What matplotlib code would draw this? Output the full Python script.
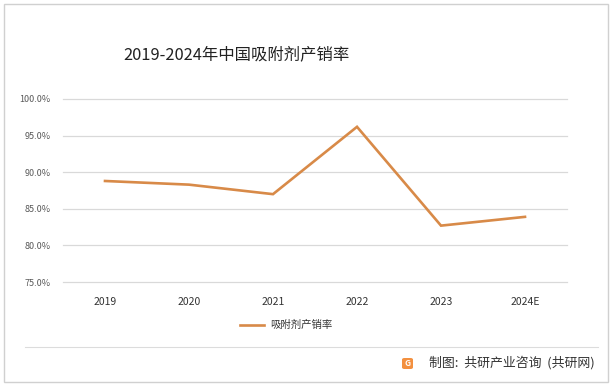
import matplotlib
matplotlib.use('Agg')
import matplotlib.pyplot as plt
from matplotlib.patches import Rectangle, FancyBboxPatch
from matplotlib.lines import Line2D

plt.rcParams['font.family'] = ['Noto Sans CJK SC', 'DejaVu Sans']

# 数据
years = ['2019', '2020', '2021', '2022', '2023', '2024E']
rate = [88.8, 88.3, 87.0, 96.2, 82.7, 83.9]
yticks = [75, 80, 85, 90, 95, 100]

W, H = 614, 386
fig = plt.figure(figsize=(W / 100, H / 100), dpi=100)
fig.patch.set_facecolor('white')

ax = fig.add_axes([63 / W, 1 - 282 / H, (567 - 63) / W, (282 - 99) / H])
ax.set_facecolor('none')
x = range(len(years))
ax.plot(x, rate, color='#D88A48', linewidth=1.9, solid_joinstyle='miter', zorder=3)
ax.set_xlim(-0.5, len(years) - 0.5)
ax.set_ylim(75, 100)
ax.set_yticks(yticks)
ax.set_yticklabels(['%.1f%%' % v for v in yticks], fontsize=6.5, color='#595959')
ax.set_xticks(list(x))
ax.set_xticklabels(years, fontsize=7.5, color='#333333')
ax.tick_params(length=0, pad=9)
ax.tick_params(axis='x', pad=11)
ax.grid(axis='y', color='#d9d9d9', linewidth=0.9)
for gl in ax.get_ygridlines():
    gl.set_clip_on(False)
for s in ax.spines.values():
    s.set_visible(False)

# 标题
fig.text(236 / W, 1 - 55 / H, '2019-2024年中国吸附剂产销率', fontsize=11.8,
         color='#222222', ha='center', va='center')

# 图例
fig.add_artist(Line2D([240 / W, 264 / W], [1 - 325 / H, 1 - 325 / H],
                      color='#D88A48', linewidth=1.9))
fig.text(270 / W, 1 - 325 / H, '吸附剂产销率', fontsize=7.5, color='#333333',
         ha='left', va='center')

# 外框和分隔线
fig.add_artist(Rectangle((4 / W, 1 - 382 / H), 604 / W, 378 / H, fill=False,
                         edgecolor='#d0d0d0', linewidth=1.0, transform=fig.transFigure))
fig.add_artist(Line2D([25 / W, 598 / W], [1 - 347 / H, 1 - 347 / H],
                      color='#dcdcdc', linewidth=0.8))

# 来源
fig.add_artist(FancyBboxPatch((402 / W, 1 - 369 / H), 11 / W, 11 / H,
                              boxstyle='round,pad=0,rounding_size=0.004',
                              facecolor='#F3903F', edgecolor='none', transform=fig.transFigure))
fig.text(407.5 / W, 1 - 363.5 / H, 'G', fontsize=6, color='white', fontweight='bold',
         ha='center', va='center')
fig.text(429 / W, 1 - 363 / H, '制图:  共研产业咨询  (共研网)', fontsize=9.3,
         color='#333333', ha='left', va='center')

fig.savefig('out.png', dpi=100)
